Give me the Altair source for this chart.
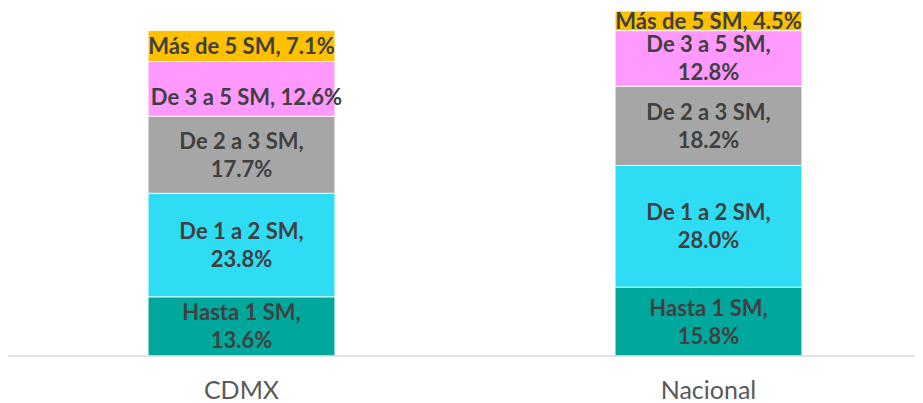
import altair as alt
import pandas as pd

regions = ["CDMX", "Nacional"]
categories = ["Hasta 1 SM", "De 1 a 2 SM", "De 2 a 3 SM", "De 3 a 5 SM", "Más de 5 SM"]
cdmx_values = [13.6, 23.8, 17.7, 12.6, 7.1]
nacional_values = [15.8, 28.0, 18.2, 12.8, 4.5]
colors = ["#00A79C", "#2EDCF3", "#A6A6A6", "#FF99FF", "#FFC000"]
# labels shown on a single line (others wrap after the comma)
single_line = [("CDMX", "De 3 a 5 SM"), ("CDMX", "Más de 5 SM"), ("Nacional", "Más de 5 SM")]
# single-line label that sits lower in its segment in the original
lowered = [("CDMX", "De 3 a 5 SM")]

rows = []
for region, vals in zip(regions, [cdmx_values, nacional_values]):
    for i, (cat, v) in enumerate(zip(categories, vals)):
        mode = "wrap"
        if (region, cat) in single_line:
            mode = "low" if (region, cat) in lowered else "single"
        rows.append({"region": region, "cat": cat, "idx": i, "value": v,
                     "line1": f"{cat},", "line2": f"{v:.1f}%",
                     "full": f"{cat}, {v:.1f}%", "mode": mode})
df = pd.DataFrame(rows)

FONT = "Lato"
TXT = dict(font=FONT, fontWeight="bold", fontSize=22, color="#404040",
           baseline="middle", align="center")

base = alt.Chart(df).transform_stack(
    stack="value", groupby=["region"], as_=["y0", "y1"],
    sort=[alt.SortField("idx", order="ascending")]
).transform_calculate(mid="(datum.y0 + datum.y1) / 2")

xenc = alt.X("region:N", sort=regions, title=None,
             scale=alt.Scale(range=[0, 934], paddingInner=0.6, paddingOuter=0.3),
             axis=alt.Axis(domain=False, ticks=False, labelAngle=0, labelFont=FONT,
                           labelFontSize=25, labelColor="#595959", labelPadding=42,
                           labelBaseline="alphabetic"))
yscale = alt.Scale(domain=[0, 80], nice=False)

bars = base.mark_bar(stroke="white", strokeWidth=0.8).encode(
    x=xenc,
    y=alt.Y("y0:Q", scale=yscale, axis=None),
    y2="y1:Q",
    color=alt.Color("cat:N", sort=categories,
                    scale=alt.Scale(domain=categories, range=colors), legend=None),
)

def txt(mode, field, dy, dx=0):
    return base.transform_filter(alt.datum.mode == mode).mark_text(dy=dy, dx=dx, **TXT).encode(
        x=alt.X("region:N", sort=regions),
        y=alt.Y("mid:Q", scale=yscale),
        text=f"{field}:N",
    )

t1 = txt("wrap", "line1", -13)
t2 = txt("wrap", "line2", 15)
t3 = txt("single", "full", 1)
t4 = txt("low", "full", 9, 5)

baseline = alt.Chart(pd.DataFrame({"z": [0]})).mark_rule(color="#D9D9D9", strokeWidth=1.5).encode(
    y=alt.Y("z:Q", scale=yscale)
)

chart = alt.layer(bars, t1, t2, t3, t4, baseline).properties(
    width=907, height=348,
    autosize=alt.AutoSizeParams(type="none"),
    padding={"left": 0, "top": 0, "right": 0, "bottom": 44},
).configure_view(stroke=None)

chart.save("out.html", embed_options={"renderer": "svg", "actions": False})
